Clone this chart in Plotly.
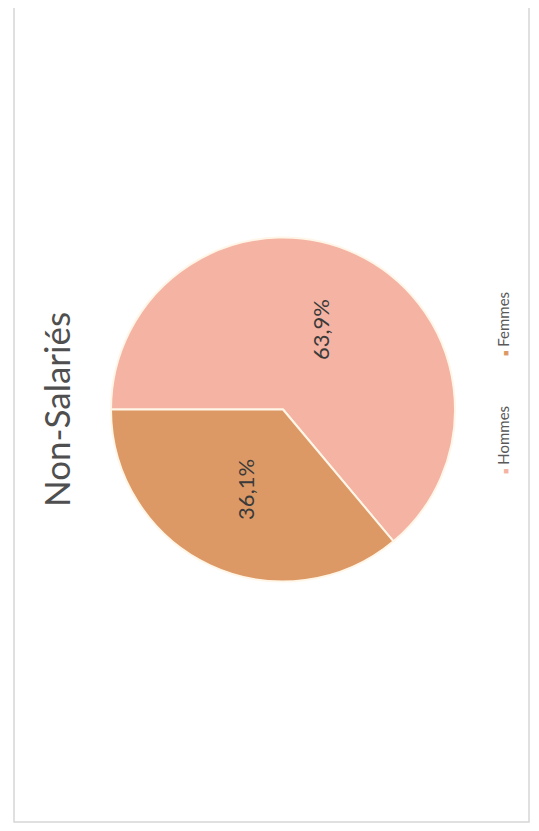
import math
import plotly.graph_objects as go

# ---- data ----
title_text = "Non-Salariés"
categories = ["Hommes", "Femmes"]
values = [63.9, 36.1]
value_labels = ["63,9%", "36,1%"]
colors = ["#F4B3A3", "#DC9965"]

# ---- layout geometry ----
W, H = 539, 831
OFF = 8                               # page body margin offset
CX, CY, R = 283 - OFF, 409.5 - OFF, 172
ROTATION = 270                        # first slice starts at 9 o'clock, clockwise
LEGEND_Y = [440, 324]                 # legend entry centres (reference pixels)


def px_x(x):
    return (x - OFF) / W


def px_y(y):
    return (H - (y - OFF)) / H


dom_x = [(CX - R) / W, (CX + R) / W]
dom_y = [(H - CY - R) / H, (H - CY + R) / H]

fig = go.Figure()
fig.add_trace(go.Pie(
    labels=categories,
    values=values,
    sort=False,
    direction="clockwise",
    rotation=ROTATION,
    marker=dict(colors=colors, line=dict(color="#FFF6E8", width=2)),
    textinfo="none",
    hoverinfo="label+percent",
    domain=dict(x=dom_x, y=dom_y),
    showlegend=False,
))

annotations = []
# percentage labels, rotated like the reference, placed at each slice's mid-angle
total = sum(values)
cum = 0.0
for v, lab in zip(values, value_labels):
    mid = ROTATION + (cum + v / 2) / total * 360.0
    cum += v
    a = math.radians(mid)
    px = CX + 0.51 * R * math.sin(a)
    py = CY - 0.51 * R * math.cos(a)
    annotations.append(dict(
        x=px / W, y=(H - py) / H, xref="paper", yref="paper",
        text=lab, showarrow=False, textangle=-90,
        font=dict(family="Lato, Open Sans, sans-serif", size=22, color="#3A3A3A"),
        xanchor="center", yanchor="middle",
    ))

# title
annotations.append(dict(
    x=px_x(56), y=px_y(410), xref="paper", yref="paper",
    text=title_text, showarrow=False, textangle=-90,
    font=dict(family="Lato, Open Sans, sans-serif", size=35, color="#4F4F4F"),
    xanchor="center", yanchor="middle",
))

# legend (rotated), one entry per category
for name, c, ly in zip(categories, colors, LEGEND_Y):
    annotations.append(dict(
        x=px_x(503), y=px_y(ly), xref="paper", yref="paper",
        text=f"<span style='font-size:9px;color:{c}'>■</span> {name}",
        showarrow=False, textangle=-90,
        font=dict(family="Lato, Open Sans, sans-serif", size=15, color="#595959"),
        xanchor="center", yanchor="middle",
    ))

fig.update_layout(
    width=W, height=H, autosize=False,
    margin=dict(l=0, r=0, t=0, b=0),
    paper_bgcolor="white", plot_bgcolor="white",
    annotations=annotations,
    shapes=[dict(type="rect", xref="paper", yref="paper",
                 x0=px_x(14), x1=px_x(529), y0=px_y(822), y1=px_y(2),
                 line=dict(color="#D6D6D6", width=1.5))],
)

fig.write_html("out.html")
